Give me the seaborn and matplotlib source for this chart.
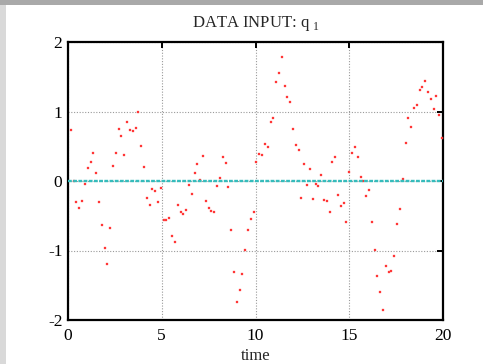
import numpy as np
import pandas as pd
import matplotlib
matplotlib.use("Agg")
import matplotlib.pyplot as plt
import seaborn as sns
from matplotlib.patches import Rectangle

# Sampled input signal q1 (sampling step 0.15 s)
dt = 0.15
q1 = [
    0.74, 0.00, -0.30, -0.39, -0.29, -0.04, 0.18, 0.28, 0.41, 0.12,
    -0.30, -0.64, -0.96, -1.19, -0.68, 0.21, 0.41, 0.75, 0.65, 0.38,
    0.85, 0.74, 0.72, 0.76, 1.00, 0.50, 0.20, -0.24, -0.34, -0.12,
    -0.14, -0.30, -0.105, -0.56, -0.56, -0.53, -0.79, -0.88, -0.35, -0.45,
    -0.475, -0.42, -0.06, -0.19, 0.115, 0.25, 0.02, 0.36, -0.29, -0.39,
    -0.43, -0.45, -0.07, 0.05, 0.35, 0.26, -0.09, -0.71, -1.31, -1.74,
    -1.57, -1.34, -0.99, -0.705, -0.54, -0.44, 0.28, 0.39, 0.38, 0.53,
    0.485, 0.845, 0.91, 1.42, 1.55, 1.79, 1.36, 1.21, 1.14, 0.75,
    0.52, 0.45, -0.25, 0.25, -0.06, 0.17, -0.26, -0.05, -0.07, 0.085,
    -0.27, -0.29, -0.44, 0.27, 0.34, -0.20, -0.365, -0.32, -0.585, 0.125,
    0.40, 0.49, 0.34, 0.06, 0.00, -0.21, -0.135, -0.595, -0.99, -1.37,
    -1.59, -1.85, -1.23, -1.305, -1.29, -1.08, -0.62, -0.41, 0.03, 0.55,
    0.90, 0.77, 1.05, 1.10, 1.31, 1.35, 1.44, 1.285, 1.175, 1.03,
    1.23, 0.955, 0.62,
]
time = dt * np.arange(1, len(q1) + 1)
x_ticks = [0, 5, 10, 15, 20]
y_ticks = [-2, -1, 0, 1, 2]

df = pd.DataFrame({"time": time, "q1": q1})

sns.set_style("white")
plt.rcParams["font.family"] = ["Liberation Serif", "DejaVu Serif"]
plt.rcParams["mathtext.fontset"] = "custom"
plt.rcParams["mathtext.rm"] = "Liberation Serif"

fig = plt.figure(figsize=(4.83, 3.64), dpi=100)
fig.patch.set_facecolor("white")
# window frame strips
fig.patches.append(Rectangle((0, 1 - 4.5 / 364), 1, 4.5 / 364, transform=fig.transFigure,
                             facecolor="#a9a9a9", edgecolor="none", zorder=0))
fig.patches.append(Rectangle((0, 0), 6 / 483, 1 - 4.5 / 364, transform=fig.transFigure,
                             facecolor="#d9d9d9", edgecolor="none", zorder=0))

ax = fig.add_axes([68 / 483, 1 - 320 / 364, (443 - 68) / 483, (320 - 42) / 364])
ax.set_facecolor("white")

sns.scatterplot(data=df, x="time", y="q1", ax=ax, color="#ff1414", marker="s",
                s=3.0, linewidth=0.3, edgecolor="#ff7070", zorder=3, legend=False)
# zero reference line drawn over the samples
ax.axhline(0, color="#35bcbc", lw=1.7, ls=(0, (1.6, 0.6)), zorder=4)

ax.set_xlim(0, 20)
ax.set_ylim(-2, 2)
ax.set_xticks(x_ticks)
ax.set_yticks(y_ticks)
ax.set_xticklabels([str(v) for v in x_ticks])
ax.set_yticklabels([str(v) for v in y_ticks])
ax.grid(True, color="#9a9a9a", ls=(0, (1, 1.5)), lw=0.8)
ax.set_axisbelow(True)

for s in ax.spines.values():
    s.set_visible(True)
    s.set_color("black")
    s.set_linewidth(1.6)
ax.tick_params(direction="in", length=4, width=1.4, top=True, right=True,
               labelsize=12.5, colors="black", pad=4)
ax.tick_params(axis="x", pad=6)

ax.set_xlabel("time", fontsize=12, labelpad=3)
ax.set_ylabel("")
ax.set_title("DATA INPUT: q $_{\\mathrm{1}}$", fontsize=12, pad=11)

fig.savefig("out.png", dpi=100, facecolor=fig.get_facecolor())
